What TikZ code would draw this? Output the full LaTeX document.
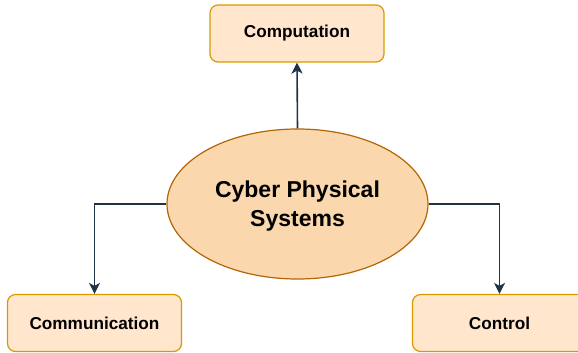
\documentclass[tikz,border=0pt]{standalone}
\usepackage{fontspec}
\setmainfont{Liberation Sans}
\usetikzlibrary{shapes.geometric,arrows.meta}
\definecolor{boxfill}{HTML}{FFE6CC}
\definecolor{boxline}{HTML}{D79B00}
\definecolor{ellfill}{HTML}{FAD7AC}
\definecolor{ellline}{HTML}{B46504}
\definecolor{arrowcol}{HTML}{1E3347}
\tikzset{
  topic/.style={draw=boxline, fill=boxfill, line width=1.2pt, rounded corners=8pt,
    minimum width=174pt, minimum height=57pt, inner sep=0pt,
    font=\fontsize{17.2}{20}\selectfont\bfseries},
  core/.style={ellipse, draw=ellline, fill=ellfill, line width=1.2pt,
    minimum width=261pt, minimum height=150pt, inner sep=0pt, align=center,
    font=\fontsize{23}{29}\selectfont\bfseries},
  link/.style={draw=arrowcol, line width=1.6pt,
    -{Stealth[width=11pt,length=11pt,inset=3pt]}}
}
\begin{document}
\begin{tikzpicture}[x=1pt,y=-1pt]
\useasboundingbox (0,0) rectangle (578,353);
\begin{scope}
\clip (0,0) rectangle (578,353);
\node[topic] (comp) at (297,33.5) {Computation};
\node[core] (cps) at (297.5,204) {};
\node[align=center, font=\fontsize{23}{29}\selectfont\bfseries] (cpstext) at (297.5,206) {Cyber Physical\\Systems};
\node[topic] (comm) at (94.5,323) {Communication};
\node[topic] (ctrl) at (499.5,323) {Control};
\draw[link] (cps.north) -- (comp.south);
\draw[link] (cps.west) -| (comm.north);
\draw[link] (cps.east) -| (ctrl.north);
\end{scope}
\end{tikzpicture}
\end{document}
